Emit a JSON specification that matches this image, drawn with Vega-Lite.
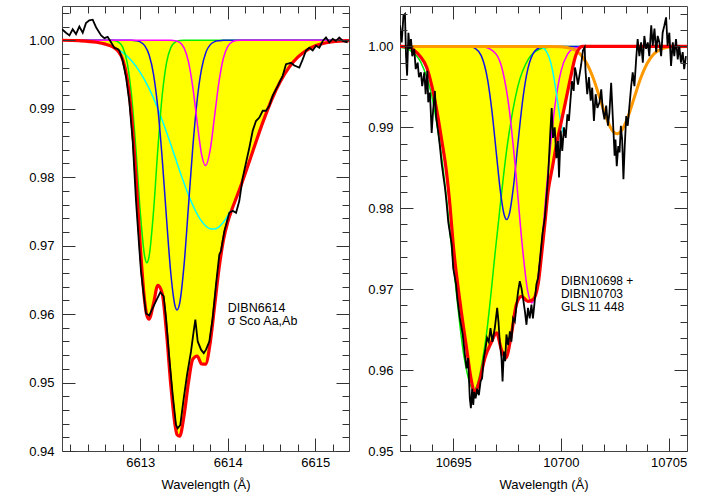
{
"$schema": "https://vega.github.io/schema/vega-lite/v6.json",
"padding": {"left": 28, "top": 5, "right": 5, "bottom": 5},
"config": {
  "view": {"stroke": "#444", "strokeWidth": 1},
  "axis": {"labelFont": "Liberation Sans", "labelFontSize": 13, "labelColor": "#000", "titleFont": "Liberation Sans", "titleFontSize": 13, "titleFontWeight": "normal", "titleColor": "#000", "tickColor": "#333", "tickWidth": 1, "grid": false, "domain": false}
},
"datasets": {
  "fitL": [
    {"w":6612.105,"f":1.0},{"w":6612.3,"f":0.99993},{"w":6612.5,"f":0.9997},{"w":6612.6,"f":0.99943},{"w":6612.65,"f":0.99922},{"w":6612.7,"f":0.9989},{"w":6612.75,"f":0.99835},{"w":6612.8,"f":0.99714},{"w":6612.85,"f":0.99439},{"w":6612.9,"f":0.98892},{"w":6612.95,"f":0.98017},{"w":6613.0,"f":0.96986},{"w":6613.05,"f":0.96182},{"w":6613.075,"f":0.95979},{"w":6613.1,"f":0.95926},{"w":6613.15,"f":0.96149},{"w":6613.2,"f":0.96418},{"w":6613.25,"f":0.96302},{"w":6613.3,"f":0.9572},{"w":6613.35,"f":0.94941},{"w":6613.4,"f":0.94353},{"w":6613.42,"f":0.94238},{"w":6613.45,"f":0.94217},{"w":6613.5,"f":0.94518},{"w":6613.55,"f":0.95},{"w":6613.6,"f":0.95341},{"w":6613.65,"f":0.95388},{"w":6613.7,"f":0.95271},{"w":6613.745,"f":0.95268},{"w":6613.8,"f":0.95592},{"w":6613.85,"f":0.96127},{"w":6613.9,"f":0.96669},{"w":6613.95,"f":0.97081},{"w":6614.0,"f":0.97348},{"w":6614.05,"f":0.97538},{"w":6614.1,"f":0.97706},{"w":6614.15,"f":0.97877},{"w":6614.2,"f":0.98057},{"w":6614.3,"f":0.98433},{"w":6614.4,"f":0.988},{"w":6614.5,"f":0.99127},{"w":6614.6,"f":0.99396},{"w":6614.7,"f":0.99604},{"w":6614.8,"f":0.99753},{"w":6614.9,"f":0.99853},{"w":6615.0,"f":0.99918},{"w":6615.1,"f":0.99956},{"w":6615.2,"f":0.99978},{"w":6615.385,"f":0.99994}
  ],
  "gL": [
    {"w":6612.105,"f":1.0},{"w":6612.65,"f":1.0},{"w":6612.7,"f":0.99995},{"w":6612.75,"f":0.99973},{"w":6612.8,"f":0.99895},{"w":6612.85,"f":0.99674},{"w":6612.9,"f":0.99192},{"w":6612.95,"f":0.98403},{"w":6613.0,"f":0.97483},{"w":6613.05,"f":0.96841},{"w":6613.075,"f":0.9675},{"w":6613.1,"f":0.96841},{"w":6613.15,"f":0.97483},{"w":6613.2,"f":0.98403},{"w":6613.25,"f":0.99192},{"w":6613.3,"f":0.99674},{"w":6613.35,"f":0.99895},{"w":6613.4,"f":0.99973},{"w":6613.45,"f":0.99995},{"w":6613.5,"f":1.0},{"w":6615.385,"f":1.0}
  ],
  "bL": [
    {"w":6612.105,"f":1.0},{"w":6612.9,"f":1.0},{"w":6612.95,"f":0.99993},{"w":6613.0,"f":0.99975},{"w":6613.05,"f":0.99921},{"w":6613.1,"f":0.99789},{"w":6613.15,"f":0.99509},{"w":6613.2,"f":0.99012},{"w":6613.25,"f":0.98275},{"w":6613.3,"f":0.97389},{"w":6613.35,"f":0.96575},{"w":6613.4,"f":0.96105},{"w":6613.42,"f":0.9606},{"w":6613.45,"f":0.9616},{"w":6613.5,"f":0.96718},{"w":6613.55,"f":0.97569},{"w":6613.6,"f":0.98439},{"w":6613.65,"f":0.99131},{"w":6613.7,"f":0.9958},{"w":6613.75,"f":0.99825},{"w":6613.8,"f":0.99936},{"w":6613.85,"f":0.9998},{"w":6613.9,"f":0.99993},{"w":6613.95,"f":1.0},{"w":6615.385,"f":1.0}
  ],
  "mL": [
    {"w":6612.105,"f":1.0},{"w":6613.35,"f":1.0},{"w":6613.4,"f":0.99993},{"w":6613.45,"f":0.99968},{"w":6613.5,"f":0.99888},{"w":6613.55,"f":0.99688},{"w":6613.6,"f":0.99312},{"w":6613.65,"f":0.98797},{"w":6613.7,"f":0.98334},{"w":6613.745,"f":0.9817},{"w":6613.8,"f":0.9841},{"w":6613.85,"f":0.98904},{"w":6613.9,"f":0.99401},{"w":6613.95,"f":0.99741},{"w":6614.0,"f":0.99911},{"w":6614.05,"f":0.99976},{"w":6614.1,"f":0.99995},{"w":6614.15,"f":1.0},{"w":6615.385,"f":1.0}
  ],
  "cL": [
    {"w":6612.105,"f":0.99999},{"w":6612.3,"f":0.99993},{"w":6612.5,"f":0.9997},{"w":6612.6,"f":0.99943},{"w":6612.7,"f":0.99896},{"w":6612.8,"f":0.99818},{"w":6612.9,"f":0.997},{"w":6613.0,"f":0.99528},{"w":6613.1,"f":0.99296},{"w":6613.2,"f":0.99003},{"w":6613.3,"f":0.98657},{"w":6613.4,"f":0.98282},{"w":6613.5,"f":0.97912},{"w":6613.6,"f":0.9759},{"w":6613.7,"f":0.97357},{"w":6613.8,"f":0.97246},{"w":6613.85,"f":0.97243},{"w":6613.9,"f":0.97275},{"w":6614.0,"f":0.97437},{"w":6614.1,"f":0.97711},{"w":6614.2,"f":0.98057},{"w":6614.3,"f":0.98433},{"w":6614.4,"f":0.988},{"w":6614.5,"f":0.99127},{"w":6614.6,"f":0.99396},{"w":6614.7,"f":0.99604},{"w":6614.8,"f":0.99753},{"w":6614.9,"f":0.99853},{"w":6615.0,"f":0.99918},{"w":6615.2,"f":0.99978},{"w":6615.385,"f":0.99994}
  ],
  "obsL": [
    {"w":6612.105,"f":1.0016},{"w":6612.15,"f":1.0011},{"w":6612.19,"f":1.0007},{"w":6612.227,"f":1.0016},{"w":6612.265,"f":1.0009},{"w":6612.303,"f":1.002},{"w":6612.342,"f":1.0011},{"w":6612.379,"f":1.0025},{"w":6612.417,"f":1.0029},{"w":6612.456,"f":1.003},{"w":6612.494,"f":1.0019},{"w":6612.552,"f":1.0007},{"w":6612.589,"f":1.0003},{"w":6612.627,"f":1.0005},{"w":6612.665,"f":0.9997},{"w":6612.703,"f":0.9989},{"w":6612.742,"f":0.9987},{"w":6612.76,"f":0.9985},{"w":6612.799,"f":0.997},{"w":6612.837,"f":0.9946},{"w":6612.874,"f":0.9911},{"w":6612.913,"f":0.9853},{"w":6612.951,"f":0.9765},{"w":6612.989,"f":0.9695},{"w":6613.008,"f":0.9662},{"w":6613.039,"f":0.9628},{"w":6613.065,"f":0.9601},{"w":6613.103,"f":0.9598},{"w":6613.142,"f":0.9609},{"w":6613.179,"f":0.9619},{"w":6613.229,"f":0.9632},{"w":6613.267,"f":0.9626},{"w":6613.294,"f":0.9594},{"w":6613.331,"f":0.9536},{"w":6613.37,"f":0.9482},{"w":6613.408,"f":0.9438},{"w":6613.427,"f":0.9433},{"w":6613.457,"f":0.9438},{"w":6613.496,"f":0.9477},{"w":6613.534,"f":0.9511},{"w":6613.579,"f":0.9545},{"w":6613.61,"f":0.9575},{"w":6613.629,"f":0.9592},{"w":6613.656,"f":0.956},{"w":6613.694,"f":0.9548},{"w":6613.725,"f":0.9543},{"w":6613.751,"f":0.9548},{"w":6613.789,"f":0.956},{"w":6613.827,"f":0.9594},{"w":6613.865,"f":0.9643},{"w":6613.903,"f":0.9687},{"w":6613.922,"f":0.9692},{"w":6613.96,"f":0.9721},{"w":6614.017,"f":0.9748},{"w":6614.056,"f":0.9751},{"w":6614.094,"f":0.9748},{"w":6614.131,"f":0.9765},{"w":6614.17,"f":0.9799},{"w":6614.208,"f":0.9821},{"w":6614.246,"f":0.9843},{"w":6614.285,"f":0.9868},{"w":6614.322,"f":0.9882},{"w":6614.36,"f":0.9887},{"w":6614.399,"f":0.9897},{"w":6614.437,"f":0.9897},{"w":6614.474,"f":0.9904},{"w":6614.513,"f":0.9919},{"w":6614.57,"f":0.9933},{"w":6614.627,"f":0.9948},{"w":6614.665,"f":0.9965},{"w":6614.722,"f":0.9967},{"w":6614.76,"f":0.9963},{"w":6614.817,"f":0.996},{"w":6614.856,"f":0.9972},{"w":6614.894,"f":0.9985},{"w":6614.931,"f":0.9989},{"w":6614.97,"f":0.9985},{"w":6615.008,"f":0.9992},{"w":6615.046,"f":0.9989},{"w":6615.085,"f":0.9999},{"w":6615.122,"f":1.0004},{"w":6615.16,"f":0.9997},{"w":6615.199,"f":1.0002},{"w":6615.237,"f":0.9999},{"w":6615.274,"f":1.0004},{"w":6615.313,"f":0.9999},{"w":6615.37,"f":0.9997}
  ],
  "labL": [{"w":6614.0,"f":0.9617,"t":"DIBN6614\nσ Sco Aa,Ab"}],
  "fitR": [
    {"w":10692.53,"f":1.0},{"w":10692.95,"f":0.9999},{"w":10693.2,"f":0.9995},{"w":10693.46,"f":0.9988},{"w":10693.77,"f":0.9974},{"w":10694.0,"f":0.9952},{"w":10694.23,"f":0.9922},{"w":10694.46,"f":0.9885},{"w":10694.69,"f":0.9844},{"w":10694.85,"f":0.9803},{"w":10695.0,"f":0.9755},{"w":10695.31,"f":0.9685},{"w":10695.62,"f":0.9627},{"w":10695.85,"f":0.9586},{"w":10696.0,"f":0.9572},{"w":10696.2,"f":0.9585},{"w":10696.47,"f":0.9615},{"w":10696.78,"f":0.9635},{"w":10697.01,"f":0.9646},{"w":10697.24,"f":0.9625},{"w":10697.44,"f":0.9615},{"w":10697.7,"f":0.9644},{"w":10697.93,"f":0.9681},{"w":10698.17,"f":0.9691},{"w":10698.47,"f":0.9685},{"w":10698.7,"f":0.9687},{"w":10698.94,"f":0.9706},{"w":10699.09,"f":0.974},{"w":10699.25,"f":0.978},{"w":10699.4,"f":0.982},{"w":10699.6,"f":0.985},{"w":10699.8,"f":0.988},{"w":10700.0,"f":0.9905},{"w":10700.2,"f":0.993},{"w":10700.45,"f":0.9962},{"w":10700.7,"f":0.999},{"w":10701.0,"f":1.0},{"w":10705.85,"f":1.0}
  ],
  "gR": [
    {"w":10692.53,"f":0.9999},{"w":10693.0,"f":0.99951},{"w":10693.5,"f":0.99804},{"w":10694.0,"f":0.99395},{"w":10694.5,"f":0.98554},{"w":10695.0,"f":0.97325},{"w":10695.5,"f":0.96169},{"w":10695.95,"f":0.9575},{"w":10696.5,"f":0.96361},{"w":10697.0,"f":0.97586},{"w":10697.5,"f":0.9876},{"w":10698.0,"f":0.99507},{"w":10698.5,"f":0.99849},{"w":10699.0,"f":0.99964},{"w":10699.5,"f":0.99993},{"w":10700.0,"f":1.0},{"w":10705.85,"f":1.0}
  ],
  "bR": [
    {"w":10692.53,"f":1.0},{"w":10695.8,"f":1.0},{"w":10696.0,"f":0.99979},{"w":10696.3,"f":0.99887},{"w":10696.6,"f":0.99584},{"w":10696.8,"f":0.99195},{"w":10697.0,"f":0.98685},{"w":10697.2,"f":0.98187},{"w":10697.35,"f":0.97935},{"w":10697.48,"f":0.9786},{"w":10697.6,"f":0.97924},{"w":10697.8,"f":0.98277},{"w":10698.0,"f":0.98792},{"w":10698.2,"f":0.99285},{"w":10698.4,"f":0.99642},{"w":10698.7,"f":0.99908},{"w":10699.0,"f":0.99984},{"w":10699.3,"f":1.0},{"w":10705.85,"f":1.0}
  ],
  "mR": [
    {"w":10692.53,"f":1.0},{"w":10696.2,"f":1.0},{"w":10696.5,"f":0.99991},{"w":10697.0,"f":0.99902},{"w":10697.3,"f":0.99692},{"w":10697.6,"f":0.99226},{"w":10697.9,"f":0.98456},{"w":10698.2,"f":0.97553},{"w":10698.45,"f":0.96988},{"w":10698.65,"f":0.9683},{"w":10698.85,"f":0.96988},{"w":10699.1,"f":0.97553},{"w":10699.4,"f":0.98456},{"w":10699.7,"f":0.99226},{"w":10700.0,"f":0.99692},{"w":10700.3,"f":0.99902},{"w":10700.6,"f":0.99976},{"w":10701.0,"f":0.99997},{"w":10701.3,"f":1.0},{"w":10705.85,"f":1.0}
  ],
  "cR": [
    {"w":10692.53,"f":1.0},{"w":10698.6,"f":1.0},{"w":10698.9,"f":0.99998},{"w":10699.1,"f":0.99989},{"w":10699.3,"f":0.99948},{"w":10699.45,"f":0.99868},{"w":10699.6,"f":0.99717},{"w":10699.75,"f":0.99488},{"w":10699.9,"f":0.99217},{"w":10700.0,"f":0.99054},{"w":10700.1,"f":0.98941}
  ],
  "oR": [
    {"w":10692.53,"f":1.0},{"w":10699.5,"f":1.0},{"w":10700.0,"f":0.99996},{"w":10700.5,"f":0.99973},{"w":10700.9,"f":0.99903},{"w":10701.2,"f":0.99789},{"w":10701.5,"f":0.99606},{"w":10701.8,"f":0.99366},{"w":10702.1,"f":0.99123},{"w":10702.35,"f":0.98975},{"w":10702.6,"f":0.9892},{"w":10702.85,"f":0.98975},{"w":10703.1,"f":0.99123},{"w":10703.4,"f":0.99366},{"w":10703.7,"f":0.99606},{"w":10704.0,"f":0.99789},{"w":10704.3,"f":0.99903},{"w":10704.7,"f":0.99973},{"w":10705.2,"f":0.99996},{"w":10705.85,"f":1.0}
  ],
  "obsR": [
    {"w":10692.53,"f":1.0026},{"w":10692.61,"f":1.0005},{"w":10692.69,"f":1.0038},{"w":10692.76,"f":1.004},{"w":10692.81,"f":0.9988},{"w":10692.86,"f":0.9964},{"w":10692.92,"f":1.0017},{"w":10692.98,"f":0.9997},{"w":10693.04,"f":1.0009},{"w":10693.1,"f":0.9988},{"w":10693.19,"f":0.9997},{"w":10693.26,"f":0.9972},{"w":10693.35,"f":0.998},{"w":10693.41,"f":0.9962},{"w":10693.5,"f":0.9968},{"w":10693.56,"f":0.9951},{"w":10693.66,"f":0.9968},{"w":10693.72,"f":0.9941},{"w":10693.8,"f":0.997},{"w":10693.84,"f":0.9931},{"w":10693.92,"f":0.9943},{"w":10694.0,"f":0.9893},{"w":10694.07,"f":0.9922},{"w":10694.15,"f":0.9945},{"w":10694.2,"f":0.9914},{"w":10694.31,"f":0.9893},{"w":10694.38,"f":0.9877},{"w":10694.46,"f":0.9856},{"w":10694.54,"f":0.984},{"w":10694.62,"f":0.9825},{"w":10694.69,"f":0.9807},{"w":10694.77,"f":0.9783},{"w":10694.93,"f":0.9755},{"w":10695.0,"f":0.9726},{"w":10695.13,"f":0.9706},{"w":10695.19,"f":0.9689},{"w":10695.31,"f":0.9664},{"w":10695.44,"f":0.9644},{"w":10695.54,"f":0.9619},{"w":10695.62,"f":0.9602},{"w":10695.69,"f":0.9615},{"w":10695.77,"f":0.9565},{"w":10695.82,"f":0.9553},{"w":10695.88,"f":0.9577},{"w":10695.93,"f":0.9557},{"w":10695.97,"f":0.9573},{"w":10696.04,"f":0.9565},{"w":10696.11,"f":0.9577},{"w":10696.19,"f":0.9569},{"w":10696.27,"f":0.9586},{"w":10696.34,"f":0.959},{"w":10696.42,"f":0.9615},{"w":10696.5,"f":0.9627},{"w":10696.57,"f":0.964},{"w":10696.65,"f":0.9635},{"w":10696.73,"f":0.9652},{"w":10696.82,"f":0.9635},{"w":10696.93,"f":0.9652},{"w":10697.04,"f":0.9677},{"w":10697.1,"f":0.966},{"w":10697.16,"f":0.9635},{"w":10697.24,"f":0.9615},{"w":10697.29,"f":0.9586},{"w":10697.35,"f":0.9623},{"w":10697.41,"f":0.9611},{"w":10697.47,"f":0.9644},{"w":10697.55,"f":0.9631},{"w":10697.63,"f":0.9648},{"w":10697.7,"f":0.9635},{"w":10697.78,"f":0.9664},{"w":10697.86,"f":0.966},{"w":10697.94,"f":0.9681},{"w":10698.01,"f":0.9697},{"w":10698.09,"f":0.971},{"w":10698.17,"f":0.9701},{"w":10698.24,"f":0.9689},{"w":10698.33,"f":0.9672},{"w":10698.4,"f":0.9656},{"w":10698.47,"f":0.9677},{"w":10698.55,"f":0.9664},{"w":10698.63,"f":0.9681},{"w":10698.7,"f":0.9664},{"w":10698.78,"f":0.9685},{"w":10698.86,"f":0.9706},{"w":10698.94,"f":0.9714},{"w":10699.05,"f":0.9743},{"w":10699.14,"f":0.9768},{"w":10699.25,"f":0.9788},{"w":10699.4,"f":0.9838},{"w":10699.51,"f":0.9896},{"w":10699.57,"f":0.9924},{"w":10699.63,"f":0.9887},{"w":10699.71,"f":0.99},{"w":10699.79,"f":0.9862},{"w":10699.86,"f":0.9883},{"w":10699.91,"f":0.9838},{"w":10699.99,"f":0.9896},{"w":10700.06,"f":0.9871},{"w":10700.14,"f":0.99},{"w":10700.22,"f":0.9887},{"w":10700.3,"f":0.9916},{"w":10700.37,"f":0.9908},{"w":10700.44,"f":0.9933},{"w":10700.51,"f":0.9957},{"w":10700.59,"f":0.9945},{"w":10700.65,"f":0.9974},{"w":10700.71,"f":0.9966},{"w":10700.79,"f":0.9953},{"w":10700.87,"f":0.9966},{"w":10700.94,"f":0.9978},{"w":10701.02,"f":0.9995},{"w":10701.1,"f":0.9999},{"w":10701.14,"f":0.997},{"w":10701.22,"f":0.9941},{"w":10701.3,"f":0.9962},{"w":10701.38,"f":0.9933},{"w":10701.45,"f":0.9949},{"w":10701.53,"f":0.9908},{"w":10701.61,"f":0.9941},{"w":10701.69,"f":0.9924},{"w":10701.79,"f":0.9931},{"w":10701.87,"f":0.9947},{"w":10701.94,"f":0.9922},{"w":10702.02,"f":0.991},{"w":10702.1,"f":0.9927},{"w":10702.18,"f":0.9902},{"w":10702.25,"f":0.9918},{"w":10702.33,"f":0.9955},{"w":10702.41,"f":0.991},{"w":10702.49,"f":0.9865},{"w":10702.53,"f":0.9885},{"w":10702.59,"f":0.9852},{"w":10702.66,"f":0.9877},{"w":10702.72,"f":0.9869},{"w":10702.78,"f":0.9902},{"w":10702.84,"f":0.9885},{"w":10702.9,"f":0.9836},{"w":10702.96,"f":0.9877},{"w":10703.03,"f":0.9914},{"w":10703.1,"f":0.9902},{"w":10703.18,"f":0.9927},{"w":10703.26,"f":0.9951},{"w":10703.33,"f":0.9968},{"w":10703.41,"f":0.9951},{"w":10703.49,"f":0.9984},{"w":10703.56,"f":1.0009},{"w":10703.64,"f":0.9988},{"w":10703.72,"f":1.0005},{"w":10703.8,"f":0.998},{"w":10703.87,"f":1.0013},{"w":10703.95,"f":0.9997},{"w":10704.03,"f":1.0005},{"w":10704.1,"f":0.9988},{"w":10704.19,"f":1.0026},{"w":10704.26,"f":1.0001},{"w":10704.34,"f":1.0022},{"w":10704.42,"f":0.9993},{"w":10704.49,"f":1.0013},{"w":10704.57,"f":1.0005},{"w":10704.65,"f":0.9988},{"w":10704.72,"f":1.0017},{"w":10704.8,"f":1.0026},{"w":10704.88,"f":1.0036},{"w":10704.95,"f":1.0001},{"w":10705.03,"f":1.0017},{"w":10705.11,"f":0.9976},{"w":10705.19,"f":1.0005},{"w":10705.26,"f":0.9988},{"w":10705.34,"f":1.0009},{"w":10705.42,"f":0.9984},{"w":10705.49,"f":1.0001},{"w":10705.57,"f":0.998},{"w":10705.65,"f":0.9993},{"w":10705.72,"f":0.9972},{"w":10705.8,"f":0.9988}
  ],
  "labR": [{"w":10700.0,"f":0.9716,"t":"DIBN10698 +\nDIBN10703\nGLS 11 448"}]
},
"spacing": 17,
"hconcat": [
  {
    "width": 287, "height": 445,
    "resolve": {"axis": {"x": "independent", "y": "independent"}},
    "layer": [
      {"data": {"name": "fitL"}, "mark": {"type": "area", "color": "#ffff00", "interpolate": "monotone"},
       "encoding": {
         "x": {"field": "w", "type": "quantitative", "scale": {"domain": [6612.105, 6615.385], "nice": false, "zero": false},
               "axis": {"orient": "bottom", "values": [6613, 6614, 6615], "format": "d", "ticks": false, "labelPadding": 5, "title": "Wavelength (Å)", "titlePadding": 9, "zindex": 1}},
         "y": {"field": "f", "type": "quantitative", "scale": {"domain": [0.94, 1.005], "nice": false, "zero": false},
               "axis": {"orient": "left", "values": [0.94, 0.95, 0.96, 0.97, 0.98, 0.99, 1.0], "format": ".2f", "ticks": false, "labelPadding": 8, "title": null, "zindex": 1}},
         "y2": {"datum": 1}
       }},
      {"data": {"name": "cL"}, "mark": {"type": "line", "color": "#00ffff", "strokeWidth": 1.5, "interpolate": "monotone", "clip": true},
       "encoding": {
         "x": {"field": "w", "type": "quantitative", "scale": {"domain": [6612.105, 6615.385], "nice": false, "zero": false},
               "axis": {"orient": "bottom", "values": [6613, 6614, 6615], "labels": false, "title": null, "tickSize": 13, "offset": -13, "zindex": 1}},
         "y": {"field": "f", "type": "quantitative", "scale": {"domain": [0.94, 1.005], "nice": false, "zero": false},
               "axis": {"orient": "left", "values": [0.94, 0.95, 0.96, 0.97, 0.98, 0.99, 1.0], "labels": false, "title": null, "tickSize": 13, "offset": -13, "zindex": 1}}
       }},
      {"data": {"name": "gL"}, "mark": {"type": "line", "color": "#00ee00", "strokeWidth": 1.5, "interpolate": "monotone", "clip": true},
       "encoding": {
         "x": {"field": "w", "type": "quantitative", "scale": {"domain": [6612.105, 6615.385], "nice": false, "zero": false},
               "axis": {"orient": "bottom", "values": [6612.2, 6612.4, 6612.6, 6612.8, 6613.2, 6613.4, 6613.6, 6613.8, 6614.2, 6614.4, 6614.6, 6614.8, 6615.2], "labels": false, "title": null, "tickSize": 7, "offset": -7, "zindex": 1}},
         "y": {"field": "f", "type": "quantitative", "scale": {"domain": [0.94, 1.005], "nice": false, "zero": false},
               "axis": {"orient": "left", "values": [0.942, 0.944, 0.946, 0.948, 0.952, 0.954, 0.956, 0.958, 0.962, 0.964, 0.966, 0.968, 0.972, 0.974, 0.976, 0.978, 0.982, 0.984, 0.986, 0.988, 0.992, 0.994, 0.996, 0.998, 1.002, 1.004], "labels": false, "title": null, "tickSize": 7, "offset": -7, "zindex": 1}}
       }},
      {"data": {"name": "bL"}, "mark": {"type": "line", "color": "#1414e6", "strokeWidth": 1.5, "interpolate": "monotone", "clip": true},
       "encoding": {
         "x": {"field": "w", "type": "quantitative", "scale": {"domain": [6612.105, 6615.385], "nice": false, "zero": false},
               "axis": {"orient": "top", "values": [6613, 6614, 6615], "labels": false, "title": null, "tickSize": 13, "offset": -13, "zindex": 1}},
         "y": {"field": "f", "type": "quantitative", "scale": {"domain": [0.94, 1.005], "nice": false, "zero": false},
               "axis": {"orient": "right", "values": [0.94, 0.95, 0.96, 0.97, 0.98, 0.99, 1.0], "labels": false, "title": null, "tickSize": 13, "offset": -13, "zindex": 1}}
       }},
      {"data": {"name": "mL"}, "mark": {"type": "line", "color": "#ff00ff", "strokeWidth": 1.5, "interpolate": "monotone", "clip": true},
       "encoding": {
         "x": {"field": "w", "type": "quantitative", "scale": {"domain": [6612.105, 6615.385], "nice": false, "zero": false},
               "axis": {"orient": "top", "values": [6612.2, 6612.4, 6612.6, 6612.8, 6613.2, 6613.4, 6613.6, 6613.8, 6614.2, 6614.4, 6614.6, 6614.8, 6615.2], "labels": false, "title": null, "tickSize": 7, "offset": -7, "zindex": 1}},
         "y": {"field": "f", "type": "quantitative", "scale": {"domain": [0.94, 1.005], "nice": false, "zero": false},
               "axis": {"orient": "right", "values": [0.942, 0.944, 0.946, 0.948, 0.952, 0.954, 0.956, 0.958, 0.962, 0.964, 0.966, 0.968, 0.972, 0.974, 0.976, 0.978, 0.982, 0.984, 0.986, 0.988, 0.992, 0.994, 0.996, 0.998, 1.002, 1.004], "labels": false, "title": null, "tickSize": 7, "offset": -7, "zindex": 1}}
       }},
      {"data": {"name": "fitL"}, "mark": {"type": "line", "color": "#ff0000", "strokeWidth": 3.2, "interpolate": "monotone", "clip": true},
       "encoding": {
         "x": {"field": "w", "type": "quantitative", "scale": {"domain": [6612.105, 6615.385], "nice": false, "zero": false}, "axis": null},
         "y": {"field": "f", "type": "quantitative", "scale": {"domain": [0.94, 1.005], "nice": false, "zero": false}, "axis": null}
       }},
      {"data": {"name": "obsL"}, "mark": {"type": "line", "color": "#000000", "strokeWidth": 1.8, "clip": true},
       "encoding": {
         "x": {"field": "w", "type": "quantitative", "scale": {"domain": [6612.105, 6615.385], "nice": false, "zero": false}, "axis": null},
         "y": {"field": "f", "type": "quantitative", "scale": {"domain": [0.94, 1.005], "nice": false, "zero": false}, "axis": null}
       }},
      {"data": {"name": "labL"}, "mark": {"type": "text", "align": "left", "baseline": "top", "font": "Liberation Sans", "fontSize": 12.5, "color": "#000", "lineBreak": "\n", "lineHeight": 12.5},
       "encoding": {
         "x": {"field": "w", "type": "quantitative", "scale": {"domain": [6612.105, 6615.385], "nice": false, "zero": false}, "axis": null},
         "y": {"field": "f", "type": "quantitative", "scale": {"domain": [0.94, 1.005], "nice": false, "zero": false}, "axis": null},
         "text": {"field": "t"}
       }}
    ]
  },
  {
    "width": 287, "height": 445,
    "resolve": {"axis": {"x": "independent", "y": "independent"}},
    "layer": [
      {"data": {"name": "fitR"}, "mark": {"type": "area", "color": "#ffff00", "interpolate": "monotone"},
       "encoding": {
         "x": {"field": "w", "type": "quantitative", "scale": {"domain": [10692.53, 10705.85], "nice": false, "zero": false},
               "axis": {"orient": "bottom", "values": [10695, 10700, 10705], "format": "d", "ticks": false, "labelPadding": 5, "title": "Wavelength (Å)", "titlePadding": 9, "zindex": 1}},
         "y": {"field": "f", "type": "quantitative", "scale": {"domain": [0.95, 1.005], "nice": false, "zero": false},
               "axis": {"orient": "left", "values": [0.95, 0.96, 0.97, 0.98, 0.99, 1.0], "format": ".2f", "ticks": false, "labelPadding": 7, "title": null, "zindex": 1}},
         "y2": {"datum": 1}
       }},
      {"data": {"name": "gR"}, "mark": {"type": "line", "color": "#00ee00", "strokeWidth": 1.5, "interpolate": "monotone", "clip": true},
       "encoding": {
         "x": {"field": "w", "type": "quantitative", "scale": {"domain": [10692.53, 10705.85], "nice": false, "zero": false},
               "axis": {"orient": "bottom", "values": [10695, 10700, 10705], "labels": false, "title": null, "tickSize": 13, "offset": -13, "zindex": 1}},
         "y": {"field": "f", "type": "quantitative", "scale": {"domain": [0.95, 1.005], "nice": false, "zero": false},
               "axis": {"orient": "left", "values": [0.95, 0.96, 0.97, 0.98, 0.99, 1.0], "labels": false, "title": null, "tickSize": 13, "offset": -13, "zindex": 1}}
       }},
      {"data": {"name": "bR"}, "mark": {"type": "line", "color": "#1414e6", "strokeWidth": 1.5, "interpolate": "monotone", "clip": true},
       "encoding": {
         "x": {"field": "w", "type": "quantitative", "scale": {"domain": [10692.53, 10705.85], "nice": false, "zero": false},
               "axis": {"orient": "bottom", "values": [10693, 10694, 10696, 10697, 10698, 10699, 10701, 10702, 10703, 10704], "labels": false, "title": null, "tickSize": 7, "offset": -7, "zindex": 1}},
         "y": {"field": "f", "type": "quantitative", "scale": {"domain": [0.95, 1.005], "nice": false, "zero": false},
               "axis": {"orient": "left", "values": [0.952, 0.954, 0.956, 0.958, 0.962, 0.964, 0.966, 0.968, 0.972, 0.974, 0.976, 0.978, 0.982, 0.984, 0.986, 0.988, 0.992, 0.994, 0.996, 0.998, 1.002, 1.004], "labels": false, "title": null, "tickSize": 7, "offset": -7, "zindex": 1}}
       }},
      {"data": {"name": "mR"}, "mark": {"type": "line", "color": "#ff00ff", "strokeWidth": 1.5, "interpolate": "monotone", "clip": true},
       "encoding": {
         "x": {"field": "w", "type": "quantitative", "scale": {"domain": [10692.53, 10705.85], "nice": false, "zero": false},
               "axis": {"orient": "top", "values": [10695, 10700, 10705], "labels": false, "title": null, "tickSize": 13, "offset": -13, "zindex": 1}},
         "y": {"field": "f", "type": "quantitative", "scale": {"domain": [0.95, 1.005], "nice": false, "zero": false},
               "axis": {"orient": "right", "values": [0.95, 0.96, 0.97, 0.98, 0.99, 1.0], "labels": false, "title": null, "tickSize": 13, "offset": -13, "zindex": 1}}
       }},
      {"data": {"name": "cR"}, "mark": {"type": "line", "color": "#00ffff", "strokeWidth": 1.5, "interpolate": "monotone", "clip": true},
       "encoding": {
         "x": {"field": "w", "type": "quantitative", "scale": {"domain": [10692.53, 10705.85], "nice": false, "zero": false},
               "axis": {"orient": "top", "values": [10693, 10694, 10696, 10697, 10698, 10699, 10701, 10702, 10703, 10704], "labels": false, "title": null, "tickSize": 7, "offset": -7, "zindex": 1}},
         "y": {"field": "f", "type": "quantitative", "scale": {"domain": [0.95, 1.005], "nice": false, "zero": false},
               "axis": {"orient": "right", "values": [0.952, 0.954, 0.956, 0.958, 0.962, 0.964, 0.966, 0.968, 0.972, 0.974, 0.976, 0.978, 0.982, 0.984, 0.986, 0.988, 0.992, 0.994, 0.996, 0.998, 1.002, 1.004], "labels": false, "title": null, "tickSize": 7, "offset": -7, "zindex": 1}}
       }},
      {"data": {"name": "oR"}, "mark": {"type": "line", "color": "#ff9900", "strokeWidth": 3, "interpolate": "monotone", "clip": true},
       "encoding": {
         "x": {"field": "w", "type": "quantitative", "scale": {"domain": [10692.53, 10705.85], "nice": false, "zero": false}, "axis": null},
         "y": {"field": "f", "type": "quantitative", "scale": {"domain": [0.95, 1.005], "nice": false, "zero": false}, "axis": null}
       }},
      {"data": {"name": "fitR"}, "mark": {"type": "line", "color": "#ff0000", "strokeWidth": 3.2, "interpolate": "monotone", "clip": true},
       "encoding": {
         "x": {"field": "w", "type": "quantitative", "scale": {"domain": [10692.53, 10705.85], "nice": false, "zero": false}, "axis": null},
         "y": {"field": "f", "type": "quantitative", "scale": {"domain": [0.95, 1.005], "nice": false, "zero": false}, "axis": null}
       }},
      {"data": {"name": "obsR"}, "mark": {"type": "line", "color": "#000000", "strokeWidth": 1.8, "clip": true},
       "encoding": {
         "x": {"field": "w", "type": "quantitative", "scale": {"domain": [10692.53, 10705.85], "nice": false, "zero": false}, "axis": null},
         "y": {"field": "f", "type": "quantitative", "scale": {"domain": [0.95, 1.005], "nice": false, "zero": false}, "axis": null}
       }},
      {"data": {"name": "labR"}, "mark": {"type": "text", "align": "left", "baseline": "top", "font": "Liberation Sans", "fontSize": 12, "color": "#000", "lineBreak": "\n", "lineHeight": 13},
       "encoding": {
         "x": {"field": "w", "type": "quantitative", "scale": {"domain": [10692.53, 10705.85], "nice": false, "zero": false}, "axis": null},
         "y": {"field": "f", "type": "quantitative", "scale": {"domain": [0.95, 1.005], "nice": false, "zero": false}, "axis": null},
         "text": {"field": "t"}
       }}
    ]
  }
]
}
